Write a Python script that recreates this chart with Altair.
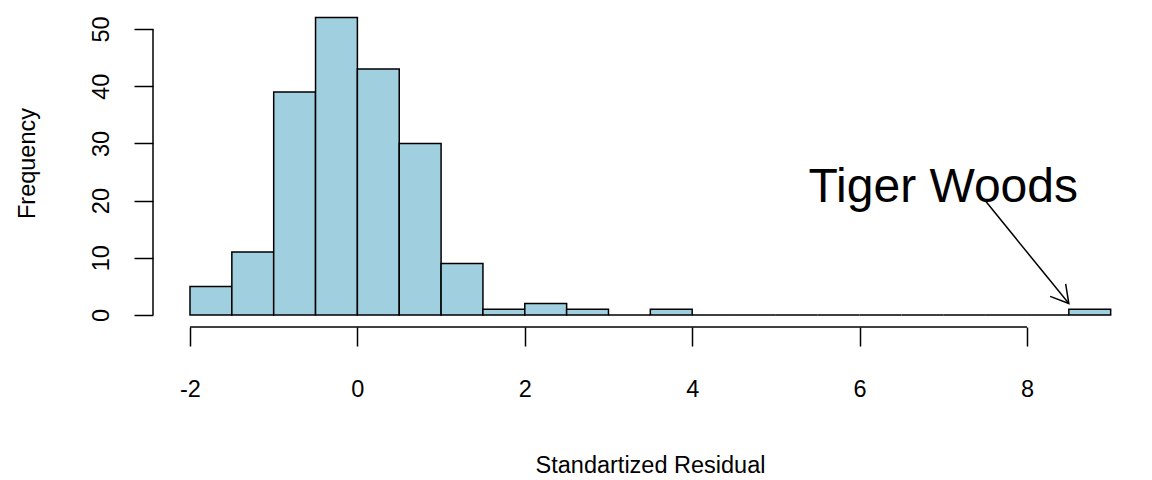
import math
import altair as alt
import pandas as pd

# ---- data ----
bin_left = [-2.0, -1.5, -1.0, -0.5, 0.0, 0.5, 1.0, 1.5, 2.0, 2.5, 3.0,
            3.5, 4.0, 4.5, 5.0, 5.5, 6.0, 6.5, 7.0, 7.5, 8.0, 8.5]
bin_width = 0.5
counts = [5, 11, 39, 52, 43, 30, 9, 1, 2, 1, 0,
          1, 0, 0, 0, 0, 0, 0, 0, 0, 0, 1]
x_ticks = [-2, 0, 2, 4, 6, 8]
y_ticks = [0, 10, 20, 30, 40, 50]
label_text = ["Tiger Woods"]
label_xy = [7.0, 19.8]
arrow_from = [7.5, 20.0]
arrow_to = [8.5, 2.0]

FONT = "Liberation Sans"
FILL = "#a0cfe0"

W, H = 975, 319
x_dom = [-2.442, 9.207]
y_dom = [-2.1, 53.67]

df = pd.DataFrame({
    "left": bin_left,
    "right": [b + bin_width for b in bin_left],
    "count": counts,
    "base": [0] * len(counts),
})

xs = alt.Scale(domain=x_dom, nice=False, zero=False)
ys = alt.Scale(domain=y_dom, nice=False, zero=False)

xaxis = alt.Axis(
    values=x_ticks, domain=False, grid=False,
    tickSize=19, tickWidth=1.5, tickColor="black",
    labelFont=FONT, labelFontSize=23.5, labelColor="black",
    labelPadding=50, labelBaseline="alphabetic", labelAlign="center",
    labelFlush=False, labelOverlap=False, labelExpr="datum.value + ''",
    title="Standartized Residual", titleFont=FONT, titleFontSize=23.5,
    titleFontWeight="normal", titleColor="black",
    titleBaseline="alphabetic", titleY=145, titleX=497,
)
yaxis = alt.Axis(
    values=y_ticks, domain=False, grid=False,
    tickSize=19, tickWidth=1.5, tickColor="black",
    labelFont=FONT, labelFontSize=23.5, labelColor="black",
    labelAngle=270, labelAlign="center", labelBaseline="alphabetic",
    labelPadding=26, labelFlush=False, labelOverlap=False,
    title="Frequency", titleFont=FONT, titleFontSize=23.5,
    titleFontWeight="normal", titleColor="black",
    titleAngle=270, titleAlign="center", titleBaseline="alphabetic",
    titleX=-119, titleY=155,
)

bars = alt.Chart(df).mark_rect(fill=FILL, stroke="black", strokeWidth=1.5).encode(
    x=alt.X("left:Q", scale=xs, axis=xaxis),
    x2="right:Q",
    y=alt.Y("count:Q", scale=ys, axis=yaxis),
    y2="base:Q",
)

# axis lines spanning only the tick range (R style)
xline_df = pd.DataFrame({"a": [x_ticks[0]], "b": [x_ticks[-1]]})
xline = alt.Chart(xline_df).mark_rule(color="black", strokeWidth=1.5).encode(
    x=alt.X("a:Q", scale=xs), x2="b:Q", y=alt.value(H)
)
yline_df = pd.DataFrame({"a": [y_ticks[0]], "b": [y_ticks[-1]]})
yline = alt.Chart(yline_df).mark_rule(color="black", strokeWidth=1.5).encode(
    y=alt.Y("a:Q", scale=ys), y2="b:Q", x=alt.value(0)
)

# annotation
txt_df = pd.DataFrame({"x": [label_xy[0]], "y": [label_xy[1]], "t": label_text})
txt = alt.Chart(txt_df).mark_text(
    font=FONT, fontSize=48, color="black", align="center", baseline="alphabetic"
).encode(x=alt.X("x:Q", scale=xs), y=alt.Y("y:Q", scale=ys), text="t:N")

arr_df = pd.DataFrame({"x": [arrow_from[0]], "y": [arrow_from[1]],
                       "x2": [arrow_to[0]], "y2": [arrow_to[1]]})
arrow = alt.Chart(arr_df).mark_rule(color="black", strokeWidth=1.5).encode(
    x=alt.X("x:Q", scale=xs), y=alt.Y("y:Q", scale=ys), x2="x2:Q", y2="y2:Q"
)

px_x = W / (x_dom[1] - x_dom[0])
px_y = H / (y_dom[1] - y_dom[0])
ang = math.degrees(math.atan2((arrow_from[1] - arrow_to[1]) * px_y,
                              (arrow_to[0] - arrow_from[0]) * px_x))
head_df = pd.DataFrame({"x": [arrow_to[0]], "y": [arrow_to[1]]})
head = alt.Chart(head_df).mark_point(
    shape="M -1 -0.577 L 0 0 L -1 0.577", filled=False, stroke="black",
    strokeWidth=1.5, size=1200, angle=ang, opacity=1
).encode(x=alt.X("x:Q", scale=xs), y=alt.Y("y:Q", scale=ys))

chart = alt.layer(bars, xline, yline, arrow, head, txt).properties(
    width=W, height=H,
    autosize=alt.AutoSizeParams(type="none"),
    padding={"left": 145, "top": 0, "right": 0, "bottom": 150},
    background="white",
).configure_view(stroke=None)

chart.save("out.html", embed_options={"renderer": "svg", "actions": False})
